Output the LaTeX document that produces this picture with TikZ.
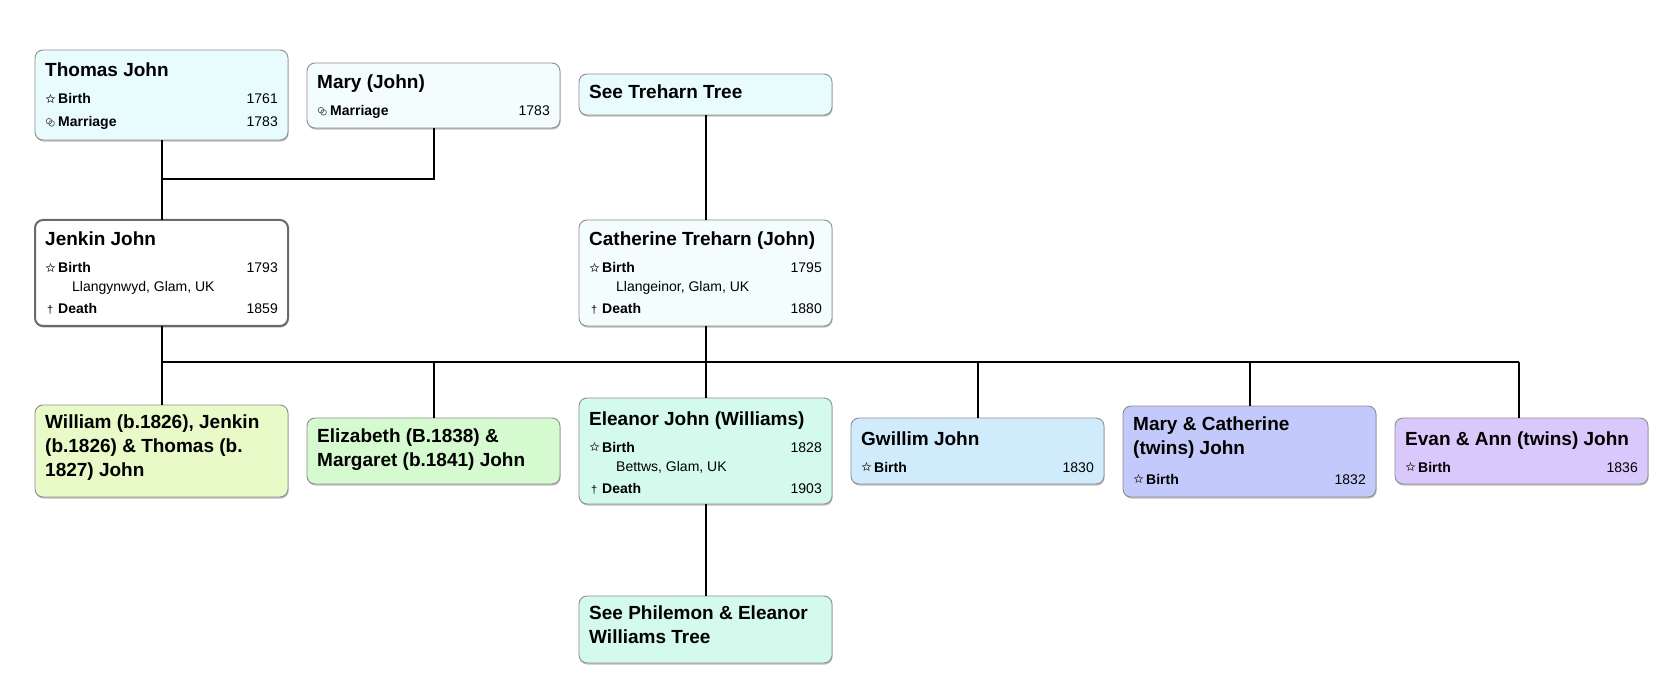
\documentclass[tikz,border=0pt]{standalone}
\usepackage{fontspec}
\setmainfont{Liberation Sans}
\usetikzlibrary{shadows,shapes.geometric}
\definecolor{cyanA}{HTML}{E8FBFD}
\definecolor{cyanB}{HTML}{F3FDFE}
\definecolor{ygreen}{HTML}{E7FAC8}
\definecolor{lgreen}{HTML}{D6FAD0}
\definecolor{mint}{HTML}{D3FAEC}
\definecolor{lblue}{HTML}{D0EBFB}
\definecolor{peri}{HTML}{C4C9FB}
\definecolor{lav}{HTML}{D9C8FB}
\definecolor{boxgray}{HTML}{8E8E8E}
\definecolor{darkgray}{HTML}{6A6A6A}
\tikzset{
  pbox/.style={draw=boxgray, line width=0.9pt, rounded corners=8pt, anchor=north west,
    inner sep=0pt, outer sep=0pt, minimum width=253pt,
    drop shadow={shadow xshift=0.6pt, shadow yshift=-1.6pt, opacity=0.25, fill=black}},
  ttl/.style={anchor=base west, inner sep=0pt, font=\fontsize{19}{24}\selectfont\bfseries},
  lbl/.style={anchor=base west, inner sep=0pt, font=\fontsize{14}{16}\selectfont\bfseries},
  yr/.style={anchor=base east, inner sep=0pt, font=\fontsize{14}{16}\selectfont},
  plc/.style={anchor=base west, inner sep=0pt, font=\fontsize{14}{16}\selectfont},
  staricon/.style={star, star points=5, star point ratio=2.3, draw=black!75, line width=0.6pt,
    minimum size=8.5pt, inner sep=0pt, outer sep=0pt},
  ringicon/.style={circle, draw=black!65, line width=0.7pt, minimum size=5.6pt, inner sep=0pt},
  dagicon/.style={anchor=base west, inner sep=0pt, font=\fontsize{11}{12}\selectfont},
  conn/.style={line width=2pt, black},
}
% #1 name, #2 box left x, #3 baseline y, #4 label, #5 year
\newcommand\rowtext[5]{%
  \node[lbl] (#1l) at (#2+23,#3) {#4};
  \node[yr]  (#1y) at (#2+243,#3) {#5};}
\newcommand\birthrow[4]{%
  \node[staricon] (#1i) at (#2+15.5,#3-5) {};
  \rowtext{#1}{#2}{#3}{Birth}{#4}}
\newcommand\marrow[4]{%
  \node[ringicon] (#1i) at (#2+14,#3-5.8) {};
  \node[ringicon] (#1j) at (#2+16.6,#3-3.6) {};
  \rowtext{#1}{#2}{#3}{Marriage}{#4}}
\newcommand\deathrow[4]{%
  \node[dagicon] (#1i) at (#2+12,#3) {†};
  \rowtext{#1}{#2}{#3}{Death}{#4}}
\begin{document}
\begin{tikzpicture}[x=1pt,y=-1pt]
\path[use as bounding box, fill=white] (0,0) rectangle (1672,700);

% ---------- boxes ----------
\node[pbox, fill=cyanA, minimum height=90pt] (thomas) at (35,50) {};
\node[pbox, fill=cyanB, minimum height=65pt] (mary) at (307,63) {};
\node[pbox, fill=cyanA, minimum height=41pt] (treharn) at (579,74) {};
\node[pbox, fill=white, draw=darkgray, line width=2pt, minimum height=106pt] (jenkin) at (35,220) {};
\node[pbox, fill=cyanB, minimum height=106pt] (catherine) at (579,220) {};
\node[pbox, fill=ygreen, minimum height=92pt] (william) at (35,405) {};
\node[pbox, fill=lgreen, minimum height=66pt] (elizabeth) at (307,418) {};
\node[pbox, fill=mint, minimum height=106pt] (eleanor) at (579,398) {};
\node[pbox, fill=lblue, minimum height=66pt] (gwillim) at (851,418) {};
\node[pbox, fill=peri, minimum height=91pt] (marycat) at (1123,406) {};
\node[pbox, fill=lav, minimum height=66pt] (evan) at (1395,418) {};
\node[pbox, fill=mint, minimum height=67pt] (philemon) at (579,596) {};

% ---------- connectors ----------
\coordinate (tmj) at (161.5,179);
\coordinate (sibL) at (161.5,362);
\coordinate (sibR) at (1519,362);
\draw[conn] (thomas.south) -- (jenkin.north);
\draw[conn] (mary.south) |- (tmj);
\draw[conn] (treharn.south) -- (catherine.north);
\draw[conn] (jenkin.south) -- (sibL) -- (sibR);
\draw[conn] (catherine.south) -- (eleanor.north);
\draw[conn] (eleanor.south) -- (philemon.north);
\foreach \c in {william,elizabeth,gwillim,marycat}
  \draw[conn] (sibL -| \c.north) -- (\c.north);
\draw[conn] (sibR) -- (sibR |- evan.north);

% ---------- texts ----------
\node[ttl] (thomasT) at (45,77) {Thomas John};
\birthrow{thomasB}{35}{104}{1761}
\marrow{thomasM}{35}{127}{1783}

\node[ttl] (maryT) at (317,89) {Mary (John)};
\marrow{maryM}{307}{116}{1783}

\node[ttl] (treharnT) at (589,99) {See Treharn Tree};

\node[ttl] (jenkinT) at (45,246) {Jenkin John};
\birthrow{jenkinB}{35}{273}{1793}
\node[plc] (jenkinP) at (72,292) {Llangynwyd, Glam, UK};
\deathrow{jenkinD}{35}{314}{1859}

\node[ttl] (catherineT) at (589,246) {Catherine Treharn (John)};
\birthrow{catherineB}{579}{273}{1795}
\node[plc] (catherineP) at (616,292) {Llangeinor, Glam, UK};
\deathrow{catherineD}{579}{314}{1880}

\node[ttl] (williamT1) at (45,428) {William (b.1826), Jenkin};
\node[ttl] (williamT2) at (45,452) {(b.1826) \& Thomas (b.};
\node[ttl] (williamT3) at (45,476) {1827) John};

\node[ttl] (elizabethT1) at (317,442) {Elizabeth (B.1838) \&};
\node[ttl] (elizabethT2) at (317,466) {Margaret (b.1841) John};

\node[ttl] (eleanorT) at (589,425) {Eleanor John (Williams)};
\birthrow{eleanorB}{579}{452}{1828}
\node[plc] (eleanorP) at (616,471) {Bettws, Glam, UK};
\deathrow{eleanorD}{579}{493}{1903}

\node[ttl] (gwillimT) at (861,445) {Gwillim John};
\birthrow{gwillimB}{851}{472}{1830}

\node[ttl] (marycatT1) at (1133,430) {Mary \& Catherine};
\node[ttl] (marycatT2) at (1133,454) {(twins) John};
\birthrow{marycatB}{1123}{484}{1832}

\node[ttl] (evanT) at (1405,445) {Evan \& Ann (twins) John};
\birthrow{evanB}{1395}{472}{1836}

\node[ttl] (philemonT1) at (589,619) {See Philemon \& Eleanor};
\node[ttl] (philemonT2) at (589,643) {Williams Tree};
\end{tikzpicture}
\end{document}
